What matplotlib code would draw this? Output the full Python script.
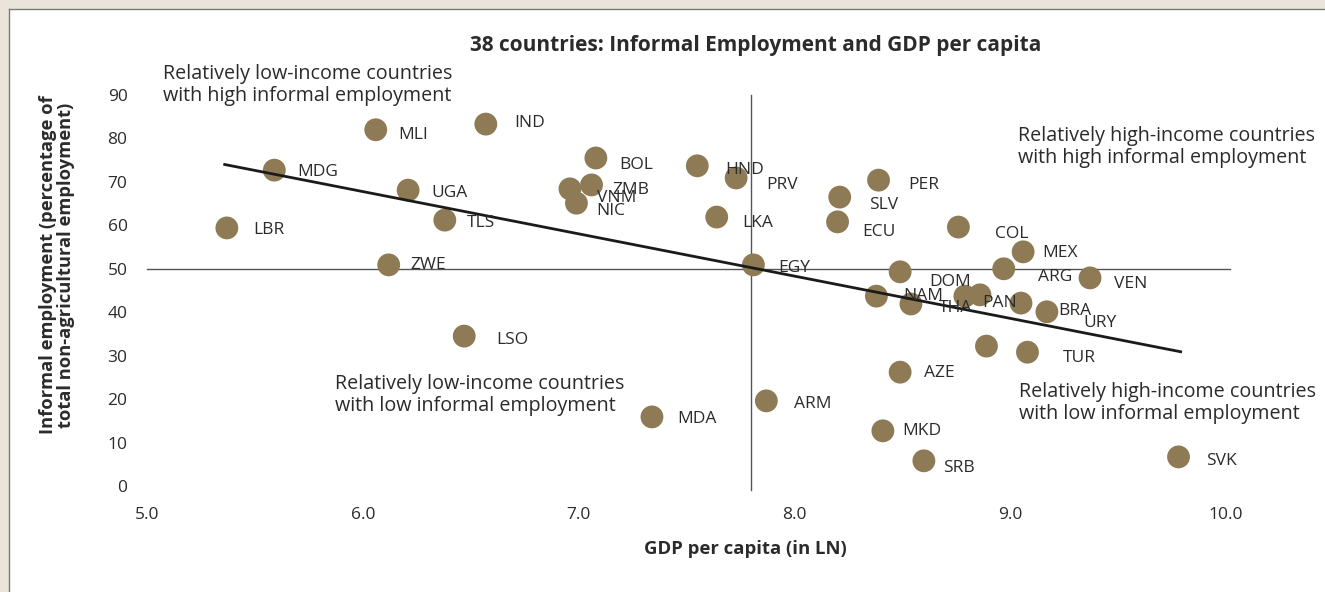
import matplotlib
matplotlib.use('Agg')
import matplotlib.pyplot as plt
from matplotlib.lines import Line2D
from matplotlib.patches import Rectangle

plt.rcParams['font.family'] = ['Open Sans', 'DejaVu Sans']

# country codes, GDP per capita (ln) and informal employment share (%)
countries = ['LBR', 'MDG', 'MLI', 'IND', 'UGA', 'TLS', 'ZWE', 'LSO',
             'BOL', 'ZMB', 'VNM', 'NIC', 'HND', 'PRV', 'LKA', 'EGY',
             'SLV', 'PER', 'ECU', 'COL', 'MEX', 'ARG', 'VEN', 'DOM',
             'NAM', 'THA', 'PAN', '', 'BRA', 'URY', '', 'TUR',
             'AZE', 'ARM', 'MDA', 'MKD', 'SRB', 'SVK']
gdp_ln = [5.37, 5.59, 6.06, 6.57, 6.21, 6.38, 6.12, 6.47,
          7.08, 7.06, 6.96, 6.99, 7.55, 7.73, 7.64, 7.81,
          8.21, 8.39, 8.20, 8.76, 9.06, 8.97, 9.37, 8.49,
          8.38, 8.54, 8.79, 8.86, 9.05, 9.17, 8.89, 9.08,
          8.49, 7.87, 7.34, 8.41, 8.60, 9.78]
informal = [59.4, 72.7, 82.0, 83.3, 68.1, 61.2, 50.9, 34.5,
            75.5, 69.3, 68.4, 65.1, 73.7, 70.9, 61.9, 50.9,
            66.5, 70.4, 60.8, 59.6, 53.9, 50.0, 47.9, 49.3,
            43.7, 41.9, 43.7, 44.0, 42.1, 40.1, 32.2, 30.8,
            26.2, 19.6, 15.9, 12.7, 5.8, 6.7]

# fitted trend line end points
trend_x = [5.36, 9.79]
trend_y = [74.0, 30.9]

x_split = 7.8
y_split = 50

x_ticks = [5.0, 6.0, 7.0, 8.0, 9.0, 10.0]
y_ticks = [0, 10, 20, 30, 40, 50, 60, 70, 80, 90]

# label offsets in pixels (dx, dy), y up
label_off = {
    'LBR': (26, -2), 'MDG': (23, -2), 'MLI': (23, -5), 'IND': (28, 1),
    'UGA': (23, -3), 'TLS': (22, -3), 'ZWE': (22, 0), 'LSO': (32, -4),
    'BOL': (23, -7), 'ZMB': (21, -5), 'VNM': (27, -9), 'NIC': (20, -8),
    'HND': (28, -4), 'PRV': (30, -7), 'LKA': (26, -6), 'EGY': (25, -3),
    'SLV': (29, -8), 'PER': (30, -5), 'ECU': (25, -10), 'COL': (37, -7),
    'MEX': (19, -1), 'ARG': (34, -8), 'VEN': (24, -6), 'DOM': (29, -10),
    'NAM': (27, 0), 'THA': (28, -4), 'PAN': (17, -7), 'BRA': (37, -8),
    'URY': (36, -11), 'TUR': (35, -6), 'AZE': (24, -1), 'ARM': (28, -3),
    'MDA': (25, -2), 'MKD': (19, 0), 'SRB': (19, -7), 'SVK': (28, -4),
}

W, H = 1325, 592
dot_color = '#8e7b55'
text_color = '#2b2b2b'

fig = plt.figure(figsize=(W / 100, H / 100), dpi=100, facecolor='#ebe4da')
# white panel with a thin grey rule on its top and left side
fig.patches.append(Rectangle((8.5 / W, 0), 1, 1 - 8.5 / H,
                             transform=fig.transFigure, facecolor='white',
                             edgecolor='none', zorder=-5))
fig.add_artist(Line2D([8.5 / W, 8.5 / W], [0, 1 - 8.5 / H], color='#7a7a7a',
                      lw=1.0, transform=fig.transFigure, zorder=-4))
fig.add_artist(Line2D([8.5 / W, 1], [1 - 8.5 / H, 1 - 8.5 / H], color='#7a7a7a',
                      lw=1.0, transform=fig.transFigure, zorder=-4))

ax = fig.add_axes([147 / W, (H - 486) / H, (1226 - 147) / W, (486 - 95) / H])
ax.set_facecolor('none')
ax.set_xlim(5.0, 10.0)
ax.set_ylim(0, 90)

ax.plot([5.0, 10.02], [y_split, y_split], color='#555555', lw=1.0,
        clip_on=False, zorder=1)
ax.plot([x_split, x_split], [-1, 90], color='#555555', lw=1.0,
        clip_on=False, zorder=1)

ax.scatter(gdp_ln, informal, s=270, color=dot_color, edgecolors='none',
           zorder=2, clip_on=False)
ax.plot(trend_x, trend_y, color='#1a1a1a', lw=2.0, zorder=3)

for name, gx, iy in zip(countries, gdp_ln, informal):
    if not name:
        continue
    dx, dy = label_off[name]
    ax.annotate(name, (gx, iy), xytext=(dx, dy), textcoords='offset pixels',
                ha='left', va='center', fontsize=12.5, color=text_color,
                zorder=4)

ax.set_xticks(x_ticks)
ax.set_xticklabels([f'{v:.1f}' for v in x_ticks])
ax.set_yticks(y_ticks)
ax.tick_params(length=0, labelsize=12.5, labelcolor=text_color)
ax.tick_params(axis='x', pad=15)
ax.tick_params(axis='y', pad=14)
for s in ax.spines.values():
    s.set_visible(False)

quad_kw = dict(fontsize=14.2, color=text_color, ha='left', va='center',
               linespacing=1.1)
fig.text(163 / W, 1 - 85 / H, 'Relatively low-income countries\nwith high informal employment', **quad_kw)
fig.text(1018 / W, 1 - 147 / H, 'Relatively high-income countries\nwith high informal employment', **quad_kw)
fig.text(335 / W, 1 - 395 / H, 'Relatively low-income countries\nwith low informal employment', **quad_kw)
fig.text(1019 / W, 1 - 403 / H, 'Relatively high-income countries\nwith low informal employment', **quad_kw)

fig.text(756 / W, 1 - 45 / H, '38 countries: Informal Employment and GDP per capita',
         fontsize=15, fontweight='bold', color=text_color, ha='center', va='center')
fig.text(745 / W, 1 - 549 / H, 'GDP per capita (in LN)', fontsize=13.3,
         fontweight='bold', color=text_color, ha='center', va='center')
fig.text(57 / W, 1 - 265 / H, 'Informal employment (percentage of\ntotal non-agricultural employment)',
         fontsize=13.2, fontweight='bold', color=text_color, ha='center',
         va='center', rotation=90, linespacing=1.05)

fig.savefig('out.png', dpi=100, facecolor=fig.get_facecolor())
